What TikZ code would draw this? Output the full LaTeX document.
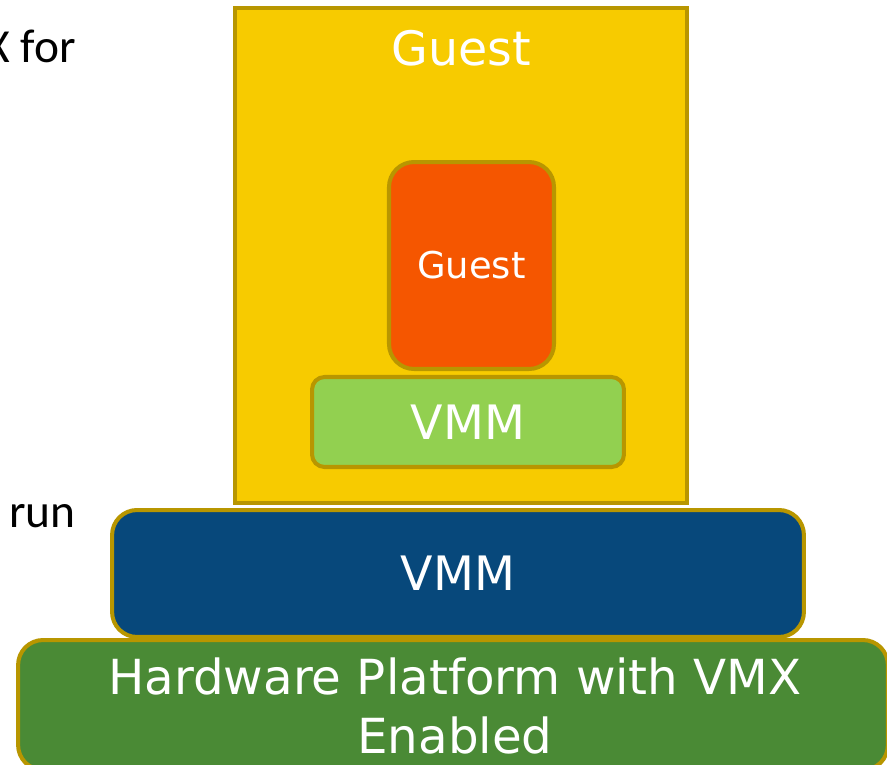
\documentclass[tikz,border=0pt]{standalone}
\usepackage{fontspec}
\setmainfont{DejaVu Sans}
\newfontfamily\notefont{Carlito}
\usepackage{tikz}

\definecolor{rim}{HTML}{B89600}
\definecolor{guestyellow}{HTML}{F7CB00}
\definecolor{guestorange}{HTML}{F55600}
\definecolor{vmmlight}{HTML}{92D050}
\definecolor{vmmblue}{HTML}{07487B}
\definecolor{hwgreen}{HTML}{4A8A35}

\tikzset{
	layer/.style={draw=rim,line width=2.3pt,text=white,align=center,inner sep=0pt},
	big/.style={font=\fontsize{27}{33}\selectfont},
	note/.style={font=\notefont\fontsize{27}{32}\selectfont},
}

\begin{document}
\begin{tikzpicture}[x=0.02cm,y=-0.02cm]
	\useasboundingbox (0,0) rectangle (887,765);
	\node[layer,fill=guestyellow,minimum width=9.04cm,minimum height=9.9cm] (guest) at (461, 255.5) {};
	\node[text=white,big] (guesttxt) at (461, 48) {Guest};
	\node[layer,fill=guestorange,rounded corners=0.5cm,minimum width=3.3cm,minimum height=4.14cm,font=\fontsize{21}{25}\selectfont] (inner) at (471.5, 265.5) {Guest};
	\node[layer,fill=vmmlight,rounded corners=0.25cm,minimum width=6.24cm,minimum height=1.8cm,big] (vmmin) at (468, 422) {VMM};
	\node[layer,fill=vmmblue,rounded corners=0.5cm,minimum width=13.84cm,minimum height=2.54cm,big] (vmm) at (458, 573.5) {VMM};
	\node[layer,fill=hwgreen,rounded corners=0.5cm,minimum width=17.4cm,minimum height=2.6cm] (hw) at (453, 705) {};
	\node[text=white,align=center,font=\fontsize{27.5}{34}\selectfont] (hwtxt) at (455, 706) {Hardware Platform with VMX\\Enabled};
	\node[anchor=base east,note] (notea) at (82, 62) {X for};
	\node[anchor=base west,note] (noteb) at (3, 527) {run};
\end{tikzpicture}
\end{document}
